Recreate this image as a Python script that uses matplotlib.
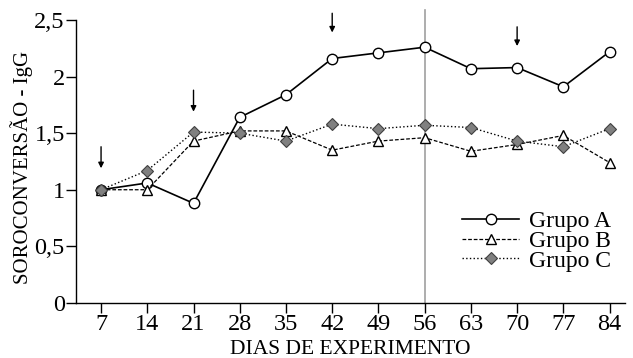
import matplotlib
matplotlib.use('Agg')
import matplotlib.pyplot as plt

plt.rcParams.update({
    'font.family': 'Liberation Serif',
    'font.size': 15,
    'axes.linewidth': 1.0,
})

dias = [7, 14, 21, 28, 35, 42, 49, 56, 63, 70, 77, 84]
grupo_a = [1.00, 1.06, 0.88, 1.64, 1.84, 2.16, 2.21, 2.26, 2.07, 2.08, 1.91, 2.22]
grupo_b = [1.00, 1.00, 1.43, 1.52, 1.52, 1.35, 1.43, 1.46, 1.34, 1.40, 1.48, 1.24]
grupo_c = [1.00, 1.17, 1.51, 1.50, 1.43, 1.58, 1.54, 1.57, 1.55, 1.43, 1.38, 1.54]

# booster arrows: (day, top, bottom)
setas = [(7, 1.38, 1.19), (21, 1.88, 1.69), (42, 2.56, 2.39), (70, 2.44, 2.27)]

fig = plt.figure(figsize=(6.33, 3.58), dpi=100)
ax = fig.add_axes([0.12, 0.154, 0.867, 0.79])

ax.axvline(56, ymin=0, ymax=1.035, color='#a0a0a0', linewidth=1.2, clip_on=False, zorder=1)

ax.plot(dias, grupo_a, '-', color='black', linewidth=1.2, marker='o', markersize=7.5,
        markerfacecolor='white', markeredgecolor='black', markeredgewidth=1.0, label='Grupo A', zorder=3)
ax.plot(dias, grupo_b, '--', color='black', linewidth=0.9, dashes=(3, 1.5), marker='^', markersize=7.5,
        markerfacecolor='white', markeredgecolor='black', markeredgewidth=1.0, label='Grupo B', zorder=3)
ax.plot(dias, grupo_c, ':', color='black', linewidth=1.0, marker='D', markersize=6,
        markerfacecolor='#808080', markeredgecolor='#404040', markeredgewidth=0.8, label='Grupo C', zorder=3)

for d, y0, y1 in setas:
    ax.annotate('', xy=(d, y1), xytext=(d, y0), annotation_clip=False,
                arrowprops=dict(arrowstyle='-|>', color='black', lw=1.0,
                                mutation_scale=8, shrinkA=0, shrinkB=0))

ax.set_xlim(3.2, 86.3)
ax.set_ylim(0, 2.5)
ax.set_xticks(dias)
ax.set_yticks([0, 0.5, 1, 1.5, 2, 2.5])
ax.set_yticklabels(['0', '0,5', '1', '1,5', '2', '2,5'])
ax.tick_params(direction='out', length=7, width=1.0, pad=1, labelsize=17.5)
ax.spines['top'].set_visible(False)
ax.spines['right'].set_visible(False)

ax.set_xlabel('DIAS DE EXPERIMENTO', fontsize=15.5)
ax.xaxis.set_label_coords(0.5, -0.132)
ax.set_ylabel('SOROCONVERSÃO - IgG', fontsize=15)
ax.yaxis.set_label_coords(-0.078, 0.48)

ax.legend(loc='lower right', bbox_to_anchor=(1.0, 0.06), frameon=False, handlelength=2.4,
          handletextpad=0.4, labelspacing=-0.08, borderaxespad=0.2, fontsize=17)

fig.savefig('out.png', dpi=100)
